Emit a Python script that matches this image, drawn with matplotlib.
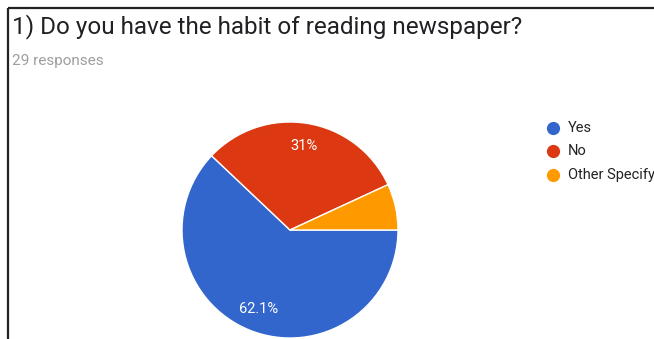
import matplotlib
matplotlib.use("Agg")
import matplotlib.pyplot as plt
from matplotlib.lines import Line2D

# Survey responses
title = "1) Do you have the habit of reading newspaper?"
subtitle = "29 responses"
categories = ["Yes", "No", "Other Specify"]
counts = [18, 9, 2]
colors = ["#3366cc", "#dc3912", "#ff9900"]

W, H = 654, 339
fig = plt.figure(figsize=(W / 100, H / 100), dpi=100)
fig.patch.set_facecolor("white")


def px(x, y):
    """Pixel (from top-left) to figure fraction."""
    return x / W, 1 - y / H


# Card border (top and left edges)
fig.add_artist(Line2D([8 / W, 1.0], [1 - 8 / H] * 2, transform=fig.transFigure,
                      color="#222222", lw=1.6, solid_capstyle="butt"))
fig.add_artist(Line2D([8 / W] * 2, [0.0, 1 - 8 / H], transform=fig.transFigure,
                      color="#222222", lw=1.6, solid_capstyle="butt"))

# Heading and response count
x, y = px(12, 27)
fig.text(x, y, title, fontsize=17.5, family="Roboto", color="#202124",
         va="center", ha="left")
x, y = px(12, 61)
fig.text(x, y, subtitle, fontsize=11, family="Roboto", color="#9e9e9e",
         va="center", ha="left")

# Pie
cx, cy, r = 290, 230, 108
ax = fig.add_axes([(cx - r) / W, (H - cy - r) / H, 2 * r / W, 2 * r / H])
ax.axis("off")


def fmt(p):
    if p < 10:
        return ""
    s = f"{p:.1f}"
    if s.endswith(".0"):
        s = s[:-2]
    return s + "%"


wedges, _, autotexts = ax.pie(counts, colors=colors, startangle=0, counterclock=False,
                              radius=1, autopct=fmt, pctdistance=0.79,
                              wedgeprops=dict(edgecolor="white", linewidth=1.0),
                              textprops=dict(color="white", fontsize=10.5, family="Roboto"))
for w in wedges:
    w.set_clip_on(False)
ax.set_xlim(-1, 1)
ax.set_ylim(-1, 1)
ax.set_aspect("equal")

# Legend
for i, (cat, col) in enumerate(zip(categories, colors)):
    ly = 128 + i * 23.5
    x, y = px(553, ly)
    fig.add_artist(Line2D([x], [y], marker="o", markersize=9.5, color=col,
                          markeredgewidth=0, transform=fig.transFigure))
    x, y = px(568, ly)
    fig.text(x, y, cat, fontsize=10.5, family="Roboto", color="#222222",
             va="center", ha="left")

fig.savefig("out.png", dpi=100)
